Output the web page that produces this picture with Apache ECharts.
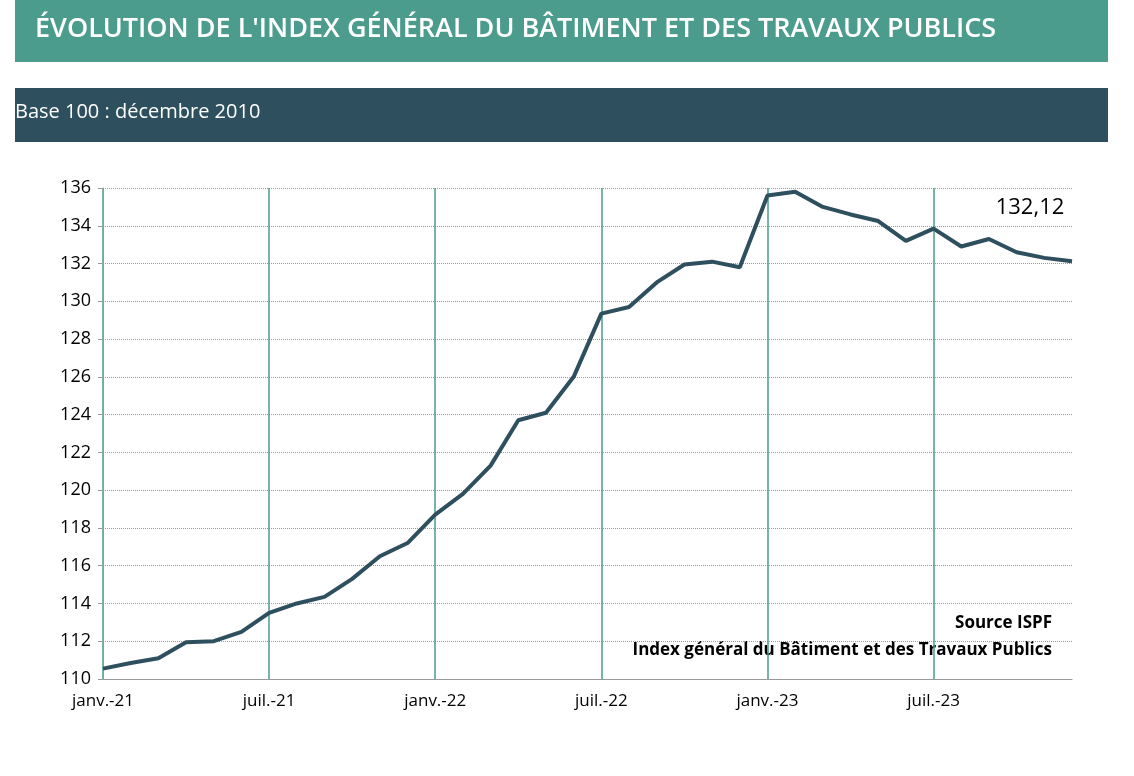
<!DOCTYPE html>
<html>
<head>
<meta charset="utf-8">
<script src="https://cdn.jsdelivr.net/npm/echarts@6/dist/echarts.min.js"></script>
<style>
  html, body { margin: 0; padding: 0; background: #fff; }
  #chart { width: 1134px; height: 776px; }
</style>
</head>
<body>
<div id="chart"></div>
<script>
// mois de janv.-21 à déc.-23
var moisNoms = ['janv.', 'févr.', 'mars', 'avr.', 'mai', 'juin', 'juil.', 'août', 'sept.', 'oct.', 'nov.', 'déc.'];
var annees = ['21', '22', '23'];
var categories = [];
annees.forEach(function (a) {
  moisNoms.forEach(function (m) { categories.push(m + '-' + a); });
});

var indexBTP = [
  110.55, 110.85, 111.1, 111.95, 112.0, 112.5, 113.5, 114.0, 114.35, 115.3, 116.5, 117.2,
  118.7, 119.8, 121.3, 123.7, 124.1, 126.0, 129.35, 129.7, 131.0, 131.95, 132.1, 131.8,
  135.6, 135.8, 135.0, 134.6, 134.25, 133.2, 133.85, 132.9, 133.3, 132.6, 132.3, 132.12
];

var myChart = echarts.init(document.getElementById('chart'));
var option = {
  animation: false,
  graphic: [
    { type: 'rect', shape: { x: 15, y: 0, width: 1093, height: 62 }, style: { fill: '#4b9c8c' } },
    { type: 'text', left: 35, top: 16, style: { text: "ÉVOLUTION DE L'INDEX GÉNÉRAL DU BÂTIMENT ET DES TRAVAUX PUBLICS", fill: '#fff', font: '600 27px "Open Sans", sans-serif' } },
    { type: 'rect', shape: { x: 15, y: 88, width: 1093, height: 54 }, style: { fill: '#2e4f5d' } },
    { type: 'text', left: 15, top: 102, style: { text: 'Base 100 : décembre 2010', fill: '#fff', font: '20px "Open Sans", sans-serif' } },
    { type: 'text', right: 82, top: 615, style: { text: 'Source ISPF', fill: '#000', font: 'bold 17px "Open Sans", sans-serif', align: 'right' } },
    { type: 'text', right: 82, top: 642, style: { text: 'Index général du Bâtiment et des Travaux Publics', fill: '#000', font: 'bold 17px "Open Sans", sans-serif', align: 'right' } }
  ],
  grid: { left: 103, right: 62, top: 188, bottom: 97 },
  xAxis: {
    type: 'category',
    data: categories,
    boundaryGap: false,
    axisLine: { lineStyle: { color: '#999' } },
    axisTick: { show: false },
    axisLabel: { interval: 5, color: '#000', fontSize: 17, margin: 14, fontFamily: 'Open Sans' },
    splitLine: { show: true, interval: 5, lineStyle: { color: '#4b9c8c', width: 1.5 } }
  },
  yAxis: {
    type: 'value',
    min: 110,
    max: 136,
    interval: 2,
    axisLine: { show: true, lineStyle: { color: '#999' } },
    axisTick: { show: true, length: 5, lineStyle: { color: '#999' } },
    axisLabel: { color: '#000', fontSize: 18, margin: 12, fontFamily: 'Open Sans' },
    splitLine: { lineStyle: { color: '#999', type: 'dotted' } }
  },
  series: [{
    type: 'line',
    data: indexBTP,
    symbol: 'none',
    lineStyle: { color: '#2e4f5d', width: 4 },
    markPoint: {
      symbol: 'circle',
      symbolSize: 0,
      data: [{ coord: [categories.length - 1, indexBTP[indexBTP.length - 1]] }],
      label: { show: true, formatter: '132,12', color: '#000', fontSize: 22, offset: [-42, -54], fontFamily: 'Open Sans' }
    }
  }]
};
myChart.setOption(option);
window.addEventListener('resize', function () { myChart.resize(); });
</script>
</body>
</html>
